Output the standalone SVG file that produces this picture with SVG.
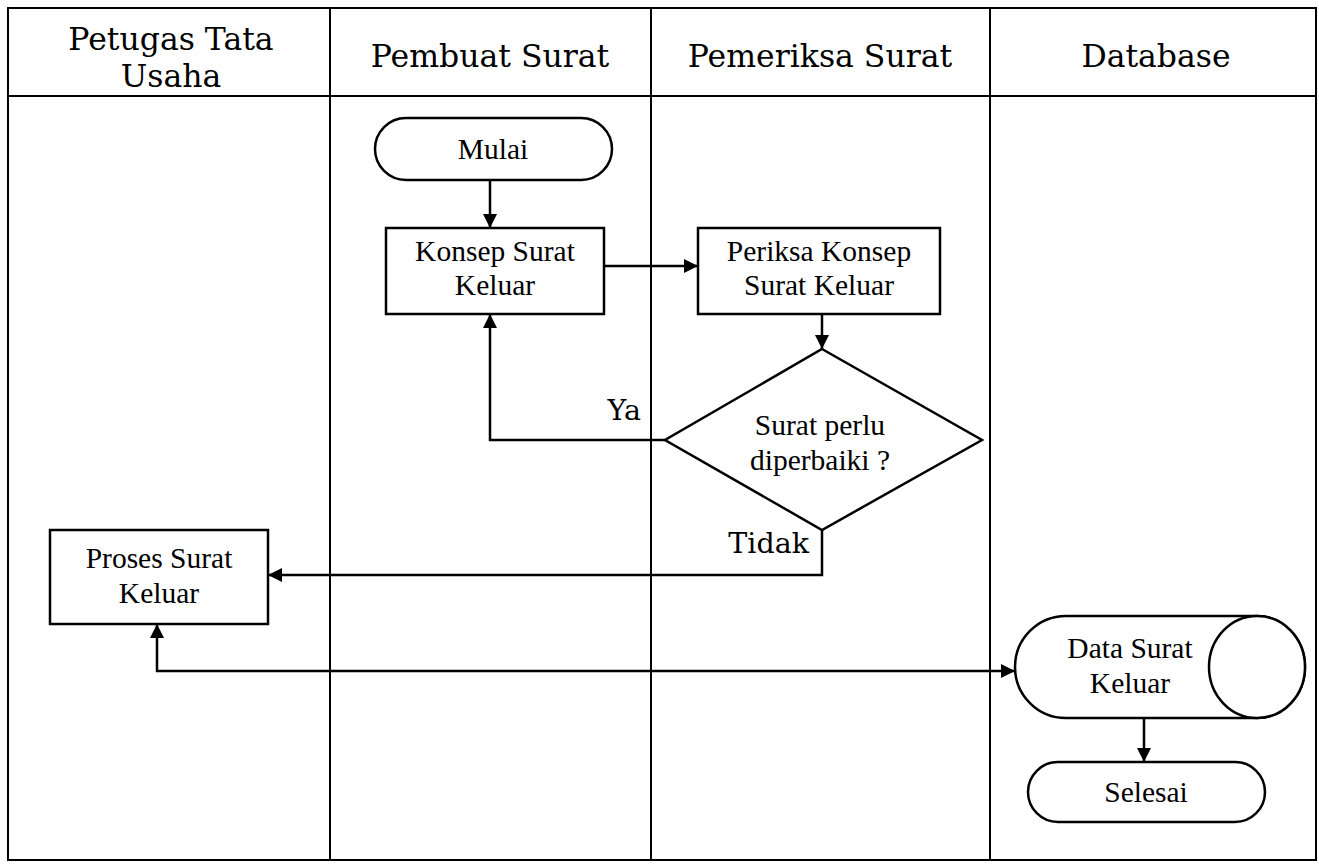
<svg xmlns="http://www.w3.org/2000/svg" width="1319" height="867" viewBox="0 0 1319 867">
<defs>
<marker id="ah" viewBox="0 0 10 10" refX="10" refY="5" markerWidth="14" markerHeight="14" markerUnits="userSpaceOnUse" orient="auto-start-reverse">
<path d="M0,0 L10,5 L0,10 Z" fill="#000"/>
</marker>
</defs>
<style>
.hd{font-family:"DejaVu Serif","Liberation Serif",serif;font-size:31.5px;fill:#000;text-anchor:middle}
.lb{font-family:"DejaVu Serif","Liberation Serif",serif;font-size:28.5px;fill:#000;text-anchor:end}
.nt{font-family:"Liberation Serif","Times New Roman",serif;font-size:29.5px;fill:#000;text-anchor:middle}
.sh{fill:#fff;stroke:#000;stroke-width:2.5}
.ln{fill:none;stroke:#000;stroke-width:2.5}
.gr{fill:none;stroke:#000;stroke-width:2}
</style>
<rect width="1319" height="867" fill="#fff"/>
<g id="table">
<rect class="gr" x="8" y="8" width="1308" height="852"/>
<line class="gr" x1="8" y1="96" x2="1316" y2="96"/>
<line class="gr" x1="330" y1="8" x2="330" y2="860"/>
<line class="gr" x1="651" y1="8" x2="651" y2="860"/>
<line class="gr" x1="990" y1="8" x2="990" y2="860"/>
<text class="hd" x="171" y="50">Petugas Tata</text>
<text class="hd" x="171" y="87">Usaha</text>
<text class="hd" x="490" y="67">Pembuat Surat</text>
<text class="hd" x="820" y="67">Pemeriksa Surat</text>
<text class="hd" x="1156" y="67">Database</text>
</g>
<g id="connectors">
<line class="ln" x1="490" y1="180" x2="490" y2="228" marker-end="url(#ah)"/>
<line class="ln" x1="604" y1="266" x2="698" y2="266" marker-end="url(#ah)"/>
<line class="ln" x1="822" y1="314" x2="822" y2="349" marker-end="url(#ah)"/>
<polyline class="ln" points="665,440 490,440 490,314" marker-end="url(#ah)"/>
<polyline class="ln" points="822,530 822,575 268,575" marker-end="url(#ah)"/>
<polyline class="ln" points="157,624 157,671 1015,671" marker-start="url(#ah)" marker-end="url(#ah)"/>
<line class="ln" x1="1144" y1="718" x2="1144" y2="762" marker-end="url(#ah)"/>
<text class="lb" x="641" y="420">Ya</text>
<text class="lb" x="809" y="553">Tidak</text>
</g>
<g id="mulai">
<rect class="sh" x="375" y="118" width="237" height="62" rx="31" ry="31"/>
<text class="nt" x="493" y="159">Mulai</text>
</g>
<g id="konsep">
<rect class="sh" x="386" y="228" width="218" height="86"/>
<text class="nt" x="495" y="261">Konsep Surat</text>
<text class="nt" x="495" y="295">Keluar</text>
</g>
<g id="periksa">
<rect class="sh" x="698" y="228" width="242" height="86"/>
<text class="nt" x="819" y="261">Periksa Konsep</text>
<text class="nt" x="819" y="295">Surat Keluar</text>
</g>
<g id="keputusan">
<polygon class="sh" points="822,349 982,440 822,530 665,440"/>
<text class="nt" x="820" y="435">Surat perlu</text>
<text class="nt" x="820" y="470">diperbaiki ?</text>
</g>
<g id="proses">
<rect class="sh" x="50" y="530" width="218" height="94"/>
<text class="nt" x="159" y="568">Proses Surat</text>
<text class="nt" x="159" y="603">Keluar</text>
</g>
<g id="data">
<path class="sh" d="M1066,616 L1257,616 A48,51 0 0 1 1257,718 L1066,718 A51,51 0 0 1 1066,616 Z"/>
<ellipse class="sh" cx="1257" cy="667" rx="48" ry="51"/>
<text class="nt" x="1130" y="658">Data Surat</text>
<text class="nt" x="1130" y="693">Keluar</text>
</g>
<g id="selesai">
<rect class="sh" x="1028" y="762" width="237" height="60" rx="30" ry="30"/>
<text class="nt" x="1146" y="802">Selesai</text>
</g>
</svg>
